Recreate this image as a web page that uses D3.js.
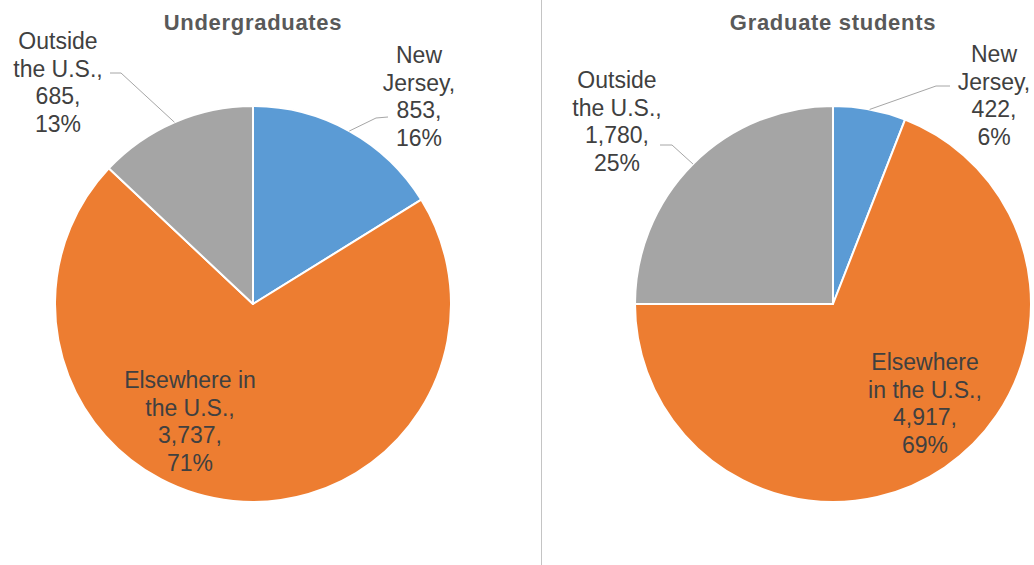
<!DOCTYPE html>
<html>
<head>
<meta charset="utf-8">
<script src="https://cdn.jsdelivr.net/npm/d3@7"></script>
<style>
  body { margin: 0; background: #fff; }
  svg { display: block; }
</style>
</head>
<body>
<div id="chart"></div>
<script>
// data
var categories = ["New Jersey", "Elsewhere in the U.S.", "Outside the U.S."];
var titles = ["Undergraduates", "Graduate students"];
var undergradValues = [853, 3737, 685];
var gradValues = [422, 4917, 1780];

var colors = ["#5b9bd5", "#ed7d31", "#a5a5a5"];

var width = 1034, height = 565;
var radius = 198;
var lineH = 27.7;

// where each pie sits and how its labels are wrapped / placed (relative to pie centre)
var layout = [
  {
    cx: 253, cy: 304,
    labels: [
      {lines: ["New", "Jersey,"], dx: 166, dy: -241, leader: [[388, 117], [376, 118]]},
      {lines: ["Elsewhere in", "the U.S.,"], dx: -63, dy: 84},
      {lines: ["Outside", "the U.S.,"], dx: -195, dy: -255, leader: [[110, 73], [121, 73]]}
    ]
  },
  {
    cx: 833, cy: 304,
    labels: [
      {lines: ["New", "Jersey,"], dx: 161, dy: -242, leader: [[950, 86], [936, 86]]},
      {lines: ["Elsewhere", "in the U.S.,"], dx: 92, dy: 66},
      {lines: ["Outside", "the U.S.,"], dx: -216, dy: -216, leader: [[660, 145], [672, 145]]}
    ]
  }
];

var svg = d3.select("#chart")
  .append("svg")
  .attr("width", width)
  .attr("height", height);

// thin divider between the two charts
svg.append("line")
  .attr("x1", 541.5).attr("x2", 541.5)
  .attr("y1", 0).attr("y2", height)
  .style("stroke", "#c4c4c4")
  .style("stroke-width", 1);

var pie = d3.pie().sort(null);
var arc = d3.arc().innerRadius(0).outerRadius(radius);
var edgeArc = d3.arc().innerRadius(radius).outerRadius(radius);
var fmtNum = d3.format(",");
var fmtPct = d3.format(".0%");

function drawPie(values, title, conf) {
  var total = d3.sum(values);
  var arcs = pie(values);

  svg.append("text")
    .attr("x", conf.cx)
    .attr("y", 30)
    .attr("text-anchor", "middle")
    .style("font-family", "'Liberation Sans', Arial, sans-serif")
    .style("font-weight", "bold")
    .style("font-size", "22px")
    .style("letter-spacing", "0.7px")
    .style("fill", "#595959")
    .text(title);

  var g = svg.append("g")
    .attr("transform", "translate(" + conf.cx + "," + conf.cy + ")");

  g.selectAll(".slice")
    .data(arcs)
    .enter().append("path")
    .attr("class", "slice")
    .attr("d", arc)
    .style("fill", function (d, i) { return colors[i]; })
    .style("stroke", "#fff")
    .style("stroke-width", 2)
    .style("stroke-linejoin", "round");

  arcs.forEach(function (d, i) {
    var lab = conf.labels[i];
    var lines = lab.lines.concat([fmtNum(values[i]) + ",", fmtPct(values[i] / total)]);

    // leader line: text stub -> knee -> middle of the slice edge
    if (lab.leader) {
      var e = edgeArc.centroid(d);
      var pts = lab.leader.concat([[conf.cx + e[0], conf.cy + e[1]]]);
      svg.append("path")
        .attr("d", d3.line()(pts))
        .style("fill", "none")
        .style("stroke", "#a6a6a6")
        .style("stroke-width", 1);
    }

    var t = svg.append("text")
      .attr("text-anchor", "middle")
      .style("font-family", "'Liberation Sans', Arial, sans-serif")
      .style("font-size", "23px")
      .style("fill", "#404040");

    lines.forEach(function (s, k) {
      t.append("tspan")
        .attr("x", conf.cx + lab.dx)
        .attr("y", conf.cy + lab.dy + k * lineH)
        .text(s);
    });
  });
}

drawPie(undergradValues, titles[0], layout[0]);
drawPie(gradValues, titles[1], layout[1]);
</script>
</body>
</html>
